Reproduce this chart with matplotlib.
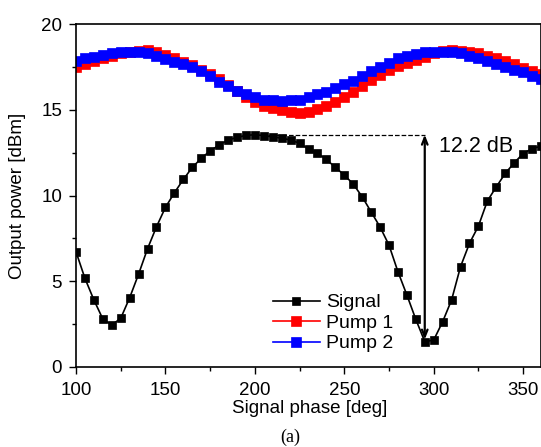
import numpy as np
import matplotlib.pyplot as plt
from matplotlib.ticker import MultipleLocator

plt.rcParams['font.family'] = ['Liberation Sans', 'DejaVu Sans']

# signal phase [deg]
phase = np.arange(100, 361, 5)

# output power [dBm]
signal = [6.72, 5.17, 3.91, 2.80, 2.45, 2.84, 4.04, 5.42, 6.90, 8.18,
          9.31, 10.16, 10.94, 11.64, 12.17, 12.61, 12.94, 13.24, 13.39, 13.51,
          13.55, 13.50, 13.42, 13.35, 13.24, 13.05, 12.71, 12.46, 12.11, 11.64,
          11.20, 10.67, 9.93, 9.05, 8.17, 7.11, 5.56, 4.20, 2.78, 1.48,
          1.57, 2.64, 3.91, 5.85, 7.21, 8.22, 9.68, 10.51, 11.29, 11.91,
          12.45, 12.74, 12.88]
pump1 = [17.50, 17.70, 17.85, 18.00, 18.15, 18.30, 18.40, 18.45, 18.48, 18.35,
         18.20, 18.00, 17.80, 17.60, 17.35, 17.10, 16.80, 16.45, 16.10, 15.75,
         15.45, 15.25, 15.10, 14.98, 14.85, 14.80, 14.90, 15.05, 15.25, 15.45,
         15.75, 16.05, 16.40, 16.75, 17.05, 17.35, 17.55, 17.75, 17.90, 18.10,
         18.30, 18.45, 18.50, 18.45, 18.40, 18.30, 18.15, 18.00, 17.85, 17.65,
         17.45, 17.25, 17.10]
pump2 = [17.85, 18.00, 18.10, 18.22, 18.30, 18.35, 18.38, 18.38, 18.30, 18.15,
         17.98, 17.82, 17.65, 17.48, 17.28, 17.00, 16.65, 16.40, 16.12, 15.90,
         15.75, 15.60, 15.55, 15.50, 15.55, 15.60, 15.75, 15.90, 16.05, 16.25,
         16.50, 16.70, 16.95, 17.25, 17.50, 17.75, 18.00, 18.15, 18.25, 18.35,
         18.40, 18.40, 18.38, 18.30, 18.15, 18.00, 17.85, 17.70, 17.50, 17.35,
         17.20, 17.00, 16.80]

# 12.2 dB 标注
peak_phase, peak_val = 200, 13.55
dip_phase, dip_val = 295, 1.6

fig = plt.figure(figsize=(5.41, 4.47), dpi=100)
ax = fig.add_axes([0.1405, 0.179, 0.8595, 0.767])

ax.plot(phase, pump1, color='red', marker='s', markersize=7, mew=0.5, lw=1.2, label='Pump 1')
ax.plot(phase, pump2, color='blue', marker='s', markersize=7, mew=0.5, lw=1.2, label='Pump 2')
ax.plot(phase, signal, color='black', marker='s', markersize=6, mew=0.5, lw=1.2, label='Signal')

# 虚线和双向箭头
ax.plot([peak_phase + 4, dip_phase], [peak_val, peak_val], color='black', ls='--', lw=0.9)
ax.annotate('', xy=(dip_phase, peak_val), xytext=(dip_phase, dip_val),
            arrowprops=dict(arrowstyle='<->,head_length=0.5,head_width=0.2',
                            color='black', lw=1.6, shrinkA=0, shrinkB=0))
ax.text(303, 12.85, '12.2 dB', fontsize=15.5, va='center', ha='left')

ax.set_xlim(100, 360)
ax.set_ylim(0, 20)
ax.xaxis.set_major_locator(MultipleLocator(50))
ax.xaxis.set_minor_locator(MultipleLocator(25))
ax.yaxis.set_major_locator(MultipleLocator(5))
ax.yaxis.set_minor_locator(MultipleLocator(2.5))
ax.tick_params(which='major', direction='out', length=5, width=1, labelsize=13.5)
ax.tick_params(axis='x', which='major', pad=6)
ax.tick_params(axis='y', which='major', pad=5)
ax.tick_params(which='minor', direction='out', length=3, width=1)
for s in ax.spines.values():
    s.set_linewidth(1.2)

ax.set_xlabel('Signal phase [deg]', fontsize=13.5)
ax.set_ylabel('Output power [dBm]', fontsize=13.5)
ax.xaxis.set_label_coords(0.503, -0.122)
ax.xaxis.label.set_va('center')
ax.yaxis.set_label_coords(-0.125, 0.5)
ax.yaxis.label.set_va('center')

handles, labels = ax.get_legend_handles_labels()
order = [2, 0, 1]
ax.legend([handles[i] for i in order], [labels[i] for i in order],
          loc='center left', bbox_to_anchor=(0.424, 0.128), frameon=False,
          borderpad=0, borderaxespad=0,
          fontsize=14, handlelength=2.4, handletextpad=0.3, labelspacing=0.15)

fig.text(0.536, 0.022, '(a)', family='Liberation Serif', fontsize=13, ha='center', va='center')

fig.savefig('out.png', dpi=100)
